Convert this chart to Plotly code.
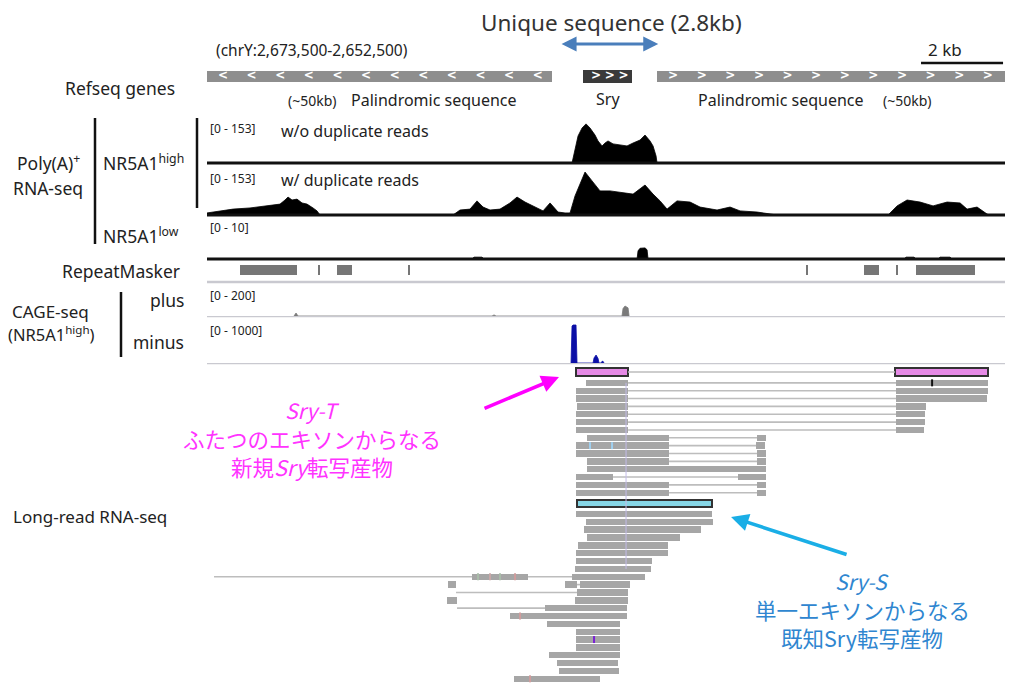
import numpy as np
import plotly.graph_objects as go

W, H = 1013, 685
OFF = 8                           # page body margin: page px = figure px + OFF
X0_PX, X1_PX = 207, 1008          # data window in page pixels

# ---------------- data (positions in kb from left edge of window) ----------------
region_kb = [0.0, 21.0]

gene_label = ["Palindromic sequence", "Sry", "Palindromic sequence"]
gene_start = [0.0, 9.86, 11.80]
gene_end = [9.05, 11.14, 21.0]
gene_strand = ["-", "+", "+"]

repeat_start = [0.865, 2.910, 3.409, 5.270, 15.706, 17.226, 18.065, 18.590]
repeat_end = [2.360, 2.963, 3.802, 5.323, 15.758, 17.620, 18.118, 20.137]

# Poly(A)+ RNA-seq NR5A1 high, w/o duplicate reads  [0-153]
nodup_kb = [9.570, 9.649, 9.728, 9.833, 9.937, 10.042, 10.173, 10.252, 10.357, 10.436, 10.514,
            10.645, 10.829, 11.012, 11.170, 11.353, 11.484, 11.615, 11.694, 11.773, 11.799]
nodup_val = [0, 44, 92, 119, 133, 119, 95, 75, 58, 68, 75, 65, 61, 58, 68, 78, 95, 75, 58, 24, 0]

# w/ duplicate reads [0-153]
dup_kb = [0.0, 0.157, 0.341, 0.682, 1.127, 1.573, 1.914, 2.045, 2.124, 2.229, 2.360, 2.491, 2.622,
          2.779, 2.884, 2.963,
          6.450, 6.634, 6.896, 7.079, 7.237, 7.420, 7.682, 7.944, 8.128, 8.338, 8.548, 8.810, 8.994,
          9.125, 9.204, 9.387, 9.518, 9.649, 9.911, 10.095, 10.304, 10.567, 10.829, 11.170, 11.484,
          11.694, 11.878, 12.061, 12.323, 12.664, 12.926, 13.372, 13.713, 13.975, 14.421, 14.762,
          14.945,
          17.856, 18.092, 18.354, 18.695, 19.036, 19.403, 19.744, 19.927, 20.189, 20.452, 20.530]
dup_val = [7, 10, 14, 20, 24, 31, 37, 51, 61, 51, 54, 41, 37, 24, 14, 0,
           0, 17, 20, 48, 27, 17, 20, 41, 61, 44, 31, 14, 41, 20, 10, 7, 7, 65, 146, 116, 82, 82,
           78, 71, 102, 71, 48, 20, 48, 44, 27, 17, 27, 14, 10, 3, 0,
           0, 31, 51, 44, 31, 44, 41, 20, 27, 3, 0]

# NR5A1 low [0-10]
low_kb = [6.948, 7.000, 7.210, 7.263, 11.275, 11.301, 11.353, 11.484, 11.537, 11.563,
          18.275, 18.328, 18.537, 18.590, 19.167, 19.219, 19.481, 19.534]
low_val = [0, 0.5, 0.5, 0, 0, 2.2, 2.9, 3.0, 2.5, 0, 0, 0.5, 0.5, 0, 0, 0.5, 0.5, 0]

# CAGE-seq plus [0-200] / minus [0-1000]
cage_plus_kb = [2.281, 2.334, 2.386, 7.473, 7.525, 7.578, 10.881, 10.907, 10.960, 11.039, 11.065]
cage_plus_val = [0, 22, 0, 0, 8, 0, 0, 55, 74, 60, 0]
cage_minus_kb = [9.544, 9.570, 9.596, 9.675, 9.701, 10.121, 10.147, 10.200, 10.252, 10.278,
                 10.330, 10.357, 10.383, 10.409]
cage_minus_val = [0, 880, 905, 905, 0, 0, 120, 190, 110, 0, 0, 40, 40, 0]

# Long-read RNA-seq: row index, exon blocks (kb), highlight kind
read_row = list(range(25)) + [25, 26, 26, 27, 28, 28, 29] + list(range(30, 39))
read_exons = [
    [(9.675, 11.039), (18.039, 20.478)],
    [(9.937, 11.039), (18.065, 20.478)],
    [(9.675, 11.039), (18.065, 20.478)],
    [(9.675, 11.039), (18.065, 20.452)],
    [(9.701, 11.039), (18.065, 18.852)],
    [(9.675, 11.039), (18.065, 18.826)],
    [(9.675, 11.039), (18.065, 18.826)],
    [(9.675, 11.039), (18.065, 18.800)],
    [(9.964, 12.114), (14.421, 14.657)],
    [(9.675, 12.114), (14.395, 14.631)],
    [(9.675, 12.114), (14.421, 14.657)],
    [(9.964, 12.114), (14.421, 14.657)],
    [(9.964, 14.657)],
    [(9.675, 10.645), (13.923, 14.657)],
    [(9.675, 12.114), (14.421, 14.657)],
    [(9.675, 12.114), (14.421, 14.657)],
    [(9.701, 13.241)],
    [(9.675, 13.241)],
    [(9.937, 13.267)],
    [(9.885, 12.953)],
    [(9.964, 12.402)],
    [(9.728, 12.087)],
    [(9.675, 12.087)],
    [(9.675, 11.668)],
    [(9.649, 11.641)],
    [(0.184, 0.184), (6.948, 8.417), (9.570, 11.484)],
    [(9.387, 9.701), (9.780, 11.091)],
    [(6.319, 6.529)],
    [(6.529, 6.529), (9.701, 11.039)],
    [(9.649, 11.039)],
    [(6.293, 6.555)],
    [(6.555, 6.555), (8.862, 11.012)],
    [(7.945, 11.012)],
    [(8.915, 10.829)],
    [(9.675, 10.829)],
    [(9.675, 10.829)],
    [(9.675, 10.829)],
    [(8.967, 10.829)],
    [(9.177, 10.776)],
    [(9.229, 10.803)],
    [(8.049, 10.304)],
]
read_kind = ["T"] + [""] * 15 + ["S"] + [""] * 24

mark_row = [1, 9, 9, 33, 25, 25, 25, 25, 30, 38]
mark_kb = [19.01, 10.042, 10.619, 10.147, 7.105, 7.420, 7.682, 8.076, 8.207, 8.469]
mark_color = ["#111111", "#9fd0f0", "#9fd0f0", "#7a1fd6", "#a9bca9", "#c8a8a8", "#a9bca9",
              "#cf9c9c", "#cf9c9c", "#cf9c9c"]

# ---------------- layout helpers ----------------
FONT = "Noto Sans, Noto Sans CJK JP, sans-serif"
JP = "Noto Sans CJK JP, Noto Sans, sans-serif"
TXT = "#222222"


def px(x):
    return (x - OFF) / W


def dom(base_px, top_px):
    return [1 - (base_px - OFF) / H, 1 - (top_px - OFF) / H]


def row_y(i):
    return 372 + 7.85 * i + (3 if i >= 1 else 0) + (3 if i >= 16 else 0) + (2.5 if i >= 17 else 0)


fig = go.Figure()

# Refseq genes
for s, e, st in zip(gene_start, gene_end, gene_strand):
    is_sry = (e - s) < 2
    fig.add_trace(go.Bar(orientation="h", y=[76], base=[s], x=[e - s], width=13 if is_sry else 11,
                         marker=dict(color="#3a3a3a" if is_sry else "#8e8e8e", line_width=0),
                         yaxis="y", xaxis="x", hoverinfo="skip", showlegend=False))
    step = 0.36 if is_sry else 0.75
    pad = 0.34 if is_sry else 0.42
    cx = np.arange(s + pad, e - 0.1, step)
    fig.add_trace(go.Scatter(x=cx, y=[76] * len(cx), mode="text", text=["<" if st == "-" else ">"] * len(cx),
                             textfont=dict(color="white", size=12, family="DejaVu Sans", weight="bold"),
                             hoverinfo="skip", showlegend=False))

# RepeatMasker
fig.add_trace(go.Bar(orientation="h", y=[270] * len(repeat_start), base=repeat_start,
                     x=[e - s for s, e in zip(repeat_start, repeat_end)], width=10,
                     marker=dict(color="#767676", line_width=0), hoverinfo="skip", showlegend=False))

# coverage tracks
tracks = [
    (nodup_kb, nodup_val, "y2", "black"),
    (dup_kb, dup_val, "y3", "black"),
    (low_kb, low_val, "y4", "black"),
    (cage_plus_kb, cage_plus_val, "y5", "#7a7a7a"),
    (cage_minus_kb, cage_minus_val, "y6", "#0b0fa6"),
]
for xs, ys, ax, col in tracks:
    fig.add_trace(go.Scatter(x=xs, y=ys, yaxis=ax, mode="lines", fill="tozeroy",
                             line=dict(color=col, width=0.8), fillcolor=col,
                             hoverinfo="skip", showlegend=False))

# long reads: introns
ix, iy = [], []
for r, ex in zip(read_row, read_exons):
    y = row_y(r)
    for (a0, a1), (b0, b1) in zip(ex[:-1], ex[1:]):
        ix += [a1, b0, None]
        iy += [y, y, None]
fig.add_trace(go.Scatter(x=ix, y=iy, mode="lines", line=dict(color="#bdbdbd", width=1.6),
                         hoverinfo="skip", showlegend=False))

# faint vertical mismatch column
fig.add_shape(type="line", xref="x", yref="y", x0=10.986, x1=10.986, y0=row_y(1), y1=row_y(24),
              line=dict(color="#c4bce8", width=1), layer="above")

# long reads: exons
groups = {"": ("#a6a6a6", 0, "#a6a6a6", 6.4), "T": ("#e68ae6", 2, "#333333", 7.5),
          "S": ("#86d6e6", 2, "#333333", 7.5)}
for kind, (fc, lw, lc, wd) in groups.items():
    ys, bs, ls = [], [], []
    for r, ex, k in zip(read_row, read_exons, read_kind):
        if k != kind:
            continue
        for a, b in ex:
            if b - a <= 0:
                continue
            ys.append(row_y(r)); bs.append(a); ls.append(b - a)
    fig.add_trace(go.Bar(orientation="h", y=ys, base=bs, x=ls, width=wd,
                         marker=dict(color=fc, line=dict(color=lc, width=lw)),
                         hoverinfo="skip", showlegend=False))

# mismatch / insertion marks on reads
for r, k, c in zip(mark_row, mark_kb, mark_color):
    fig.add_trace(go.Scatter(x=[k], y=[row_y(r)], mode="markers",
                             marker=dict(symbol="line-ns-open", size=5, color=c, line=dict(color=c, width=2)),
                             hoverinfo="skip", showlegend=False))

# ---------------- shapes ----------------
shapes = []
for yp, col, wd in [(115, "#cfcfd6", 2.5), (163, "#111111", 3), (215, "#111111", 3), (259, "#111111", 3),
                    (282, "#c9c9d0", 2.5), (316, "#c9c9d0", 2.5), (363, "#c9c9d0", 2.5)]:
    shapes.append(dict(type="line", xref="x", yref="y", x0=region_kb[0], x1=region_kb[1], y0=yp, y1=yp,
                       line=dict(color=col, width=wd), layer="below" if col.startswith("#c") else "above"))
for xp, y0, y1 in [(95, 118, 244), (197, 118, 208), (121, 292, 357)]:
    shapes.append(dict(type="line", xref="paper", yref="y", x0=px(xp), x1=px(xp), y0=y0, y1=y1,
                       line=dict(color="#111111", width=2.5)))
# 2 kb scale bar
shapes.append(dict(type="line", xref="x", yref="y", x0=18.72, x1=20.87, y0=63, y1=63,
                   line=dict(color="#111111", width=2.5)))

# ---------------- annotations ----------------
ann = []


def text(x, y, s, size=15, anchor="left", color=TXT, family=FONT):
    ann.append(dict(x=px(x), y=y, xref="paper", yref="y", text=s, showarrow=False, borderpad=0,
                    xanchor=anchor, yanchor="middle", font=dict(size=size, color=color, family=family)))


LBL = 17.5
text(611, 22, "Unique sequence (2.8kb)", 22.5, "center", "#333333")
text(215, 50, "(chrY:2,673,500-2,652,500)", 15.5, "left")
text(945, 49, "2 kb", 17, "center")
text(176, 88, "Refseq genes", LBL, "right")
text(312, 100, "(~50kb)", 14, "center")
text(350, 100, gene_label[0], 16, "left")
text(608, 99, gene_label[1], 16, "center")
text(697, 100, gene_label[2], 16, "left")
text(907, 100, "(~50kb)", 14, "center")

text(48, 162, "Poly(A)<sup>+</sup>", LBL, "center")
text(48, 188, "RNA-seq", LBL, "center")
text(102, 162, "NR5A1<sup>high</sup>", LBL, "left")
text(102, 235, "NR5A1<sup>low</sup>", LBL, "left")
text(181, 271, "RepeatMasker", LBL, "right")
text(50, 311, "CAGE-seq", 17, "center")
text(51, 334, "(NR5A1<sup>high</sup>)", 16.5, "center")
text(185, 300, "plus", LBL, "right")
text(185, 342, "minus", LBL, "right")
text(12, 516, "Long-read RNA-seq", 17, "left")

text(209, 128, "[0 - 153]", 12, "left")
text(280, 131, "w/o duplicate reads", 16, "left")
text(209, 178, "[0 - 153]", 12, "left")
text(280, 180, "w/ duplicate reads", 16, "left")
text(209, 227, "[0 - 10]", 12, "left")
text(209, 295, "[0 - 200]", 12, "left")
text(209, 330, "[0 - 1000]", 12, "left")

MAG, BLU = "#ff33ff", "#2f86d0"
text(312, 410, "<i>Sry-T</i>", 21, "center", MAG, JP)
text(312, 438, "ふたつのエキソンからなる", 21.5, "center", MAG, JP)
text(312, 466, "新規<i>Sry</i>転写産物", 21.5, "center", MAG, JP)
text(862, 581, "<i>Sry-S</i>", 21, "center", BLU, JP)
text(862, 609, "単一エキソンからなる", 21.5, "center", BLU, JP)
text(862, 637, "既知Sry転写産物", 21.5, "center", BLU, JP)

# arrows
ann.append(dict(x=11.83, y=44, ax=9.256, ay=44, xref="x", yref="y", axref="x", ayref="y", text="",
                showarrow=True, arrowhead=2, startarrowhead=2, arrowside="end+start", arrowsize=1,
                arrowwidth=3, arrowcolor="#4a7ebb", startarrowsize=1))
ann.append(dict(x=9.229, y=377, ax=7.237, ay=409, xref="x", yref="y", axref="x", ayref="y", text="",
                showarrow=True, arrowhead=2, arrowsize=1, arrowwidth=3.5, arrowcolor="#ff00ff"))
ann.append(dict(x=13.739, y=517, ax=16.807, ay=555, xref="x", yref="y", axref="x", ayref="y", text="",
                showarrow=True, arrowhead=2, arrowsize=1, arrowwidth=3.5, arrowcolor="#1aaee6"))

hid = dict(visible=False, fixedrange=True)
fig.update_layout(
    width=W, height=H, margin=dict(l=0, r=0, t=0, b=0),
    paper_bgcolor="white", plot_bgcolor="white", barmode="overlay", bargap=0,
    showlegend=False, shapes=shapes, annotations=ann,
    xaxis=dict(domain=[px(X0_PX), px(X1_PX)], range=region_kb, **hid),
    yaxis=dict(domain=[0, 1], range=[H + OFF, OFF], anchor="x", **hid),
    yaxis2=dict(domain=dom(163, 118), range=[0, 153], anchor="x", **hid),
    yaxis3=dict(domain=dom(215, 170), range=[0, 153], anchor="x", **hid),
    yaxis4=dict(domain=dom(259, 222), range=[0, 10], anchor="x", **hid),
    yaxis5=dict(domain=dom(316, 289), range=[0, 200], anchor="x", **hid),
    yaxis6=dict(domain=dom(363, 321), range=[0, 1000], anchor="x", **hid),
)

fig.write_html("out.html")
